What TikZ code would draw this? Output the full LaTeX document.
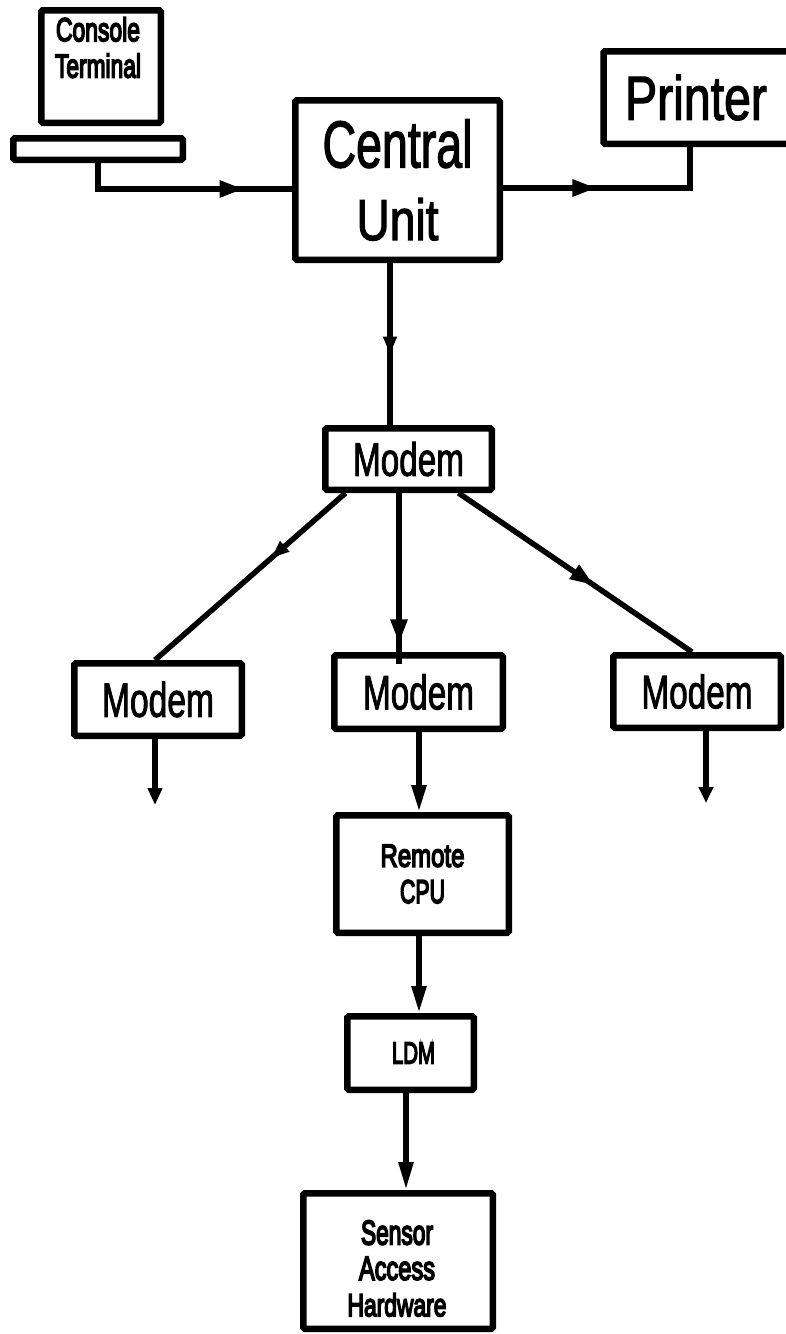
\documentclass[tikz,border=0pt]{standalone}
\usepackage{graphicx}
\usepackage{fontspec}
\setmainfont{Liberation Sans}[AutoFakeBold=2.2]
\newfontfamily\heavyfont{Liberation Sans}[AutoFakeBold=5.5]
\usetikzlibrary{arrows.meta,decorations.markings}
\newcommand{\fitT}[3]{\resizebox{#1pt}{#2pt}{\bfseries #3}}
\newcommand{\fitB}[3]{\resizebox{#1pt}{#2pt}{\heavyfont\bfseries #3}}
\tikzset{
  blk/.style={draw=black,line width=6.5pt,fill=white,inner sep=0pt,rounded corners=1.5pt,align=center},
  lbl/.style={inner sep=0pt,align=center},
  wire/.style={draw=black,line width=5.5pt},
  tip/.style={postaction={decorate,decoration={markings,mark=at position #1 with {\arrow{Triangle[length=24pt,width=16pt]}}}}},
  smalltip/.style={postaction={decorate,decoration={markings,mark=at position #1 with {\arrow{Triangle[length=18pt,width=13pt]}}}}},
  endtip/.style={-{Triangle[length=#1,width=14pt]}}
}
\begin{document}
\begin{tikzpicture}[x=1pt,y=-1pt]
\useasboundingbox (0,0) rectangle (785,1334);
% boxes
\node[blk,minimum width=119.5pt,minimum height=112.5pt] (term) at (101,66.5) {};
\node[lbl] (termtxt) at (98,47.5) {\fitB{84}{24}{Console}\\[11pt]\fitB{86}{24}{Terminal}};
\node[blk,minimum width=169.5pt,minimum height=21.5pt] (kb) at (98,149) {};
\node[blk,minimum width=204.5pt,minimum height=159.5pt] (cu) at (397.5,180) {\fitT{150}{48}{Central}\\[29pt]\fitT{82}{42}{Unit}};
\node[blk,minimum width=193pt,minimum height=92.5pt] (pr) at (700,97.5) {\hspace*{-8pt}\fitT{142}{45}{Printer}};
\node[blk,minimum width=166.5pt,minimum height=61.5pt] (m0) at (408.5,459) {\fitT{111}{34}{Modem}};
\node[blk,minimum width=167.5pt,minimum height=72.5pt] (m1) at (158,699.5) {\fitT{112}{35}{Modem}};
\node[blk,minimum width=168.5pt,minimum height=73.5pt] (m2) at (418.5,692) {\fitT{111}{35}{Modem}};
\node[blk,minimum width=167.5pt,minimum height=72.5pt] (m3) at (697,691.5) {\fitT{111}{34}{Modem}};
\node[blk,minimum width=172.5pt,minimum height=117.5pt] (cpu) at (422.5,874) {\fitB{84}{22}{Remote}\\[12pt]\fitB{45}{23}{CPU}};
\node[blk,minimum width=126.5pt,minimum height=73.5pt] (ldm) at (410.5,1053) {\hspace*{6pt}\fitB{43}{21}{LDM}};
\node[blk,minimum width=189.5pt,minimum height=135.5pt] (sah) at (398,1261) {};
\node[lbl] (sahtxt) at (397,1268.5) {\fitB{72}{24}{Sensor}\\[11pt]\fitB{76}{23}{Access}\\[12pt]\fitB{99}{23}{Hardware}};
% free ends
\coordinate (e1) at (155,805);
\coordinate (e3) at (706,803);
% connectors
\draw[wire,tip=0.78] (kb.south) |- ([yshift=-9pt]cu.west);
\draw[wire,tip=0.41] ([yshift=-8pt]cu.east) -| ([xshift=-10pt]pr.south);
\draw[wire,smalltip=0.565] ([xshift=-7.5pt]cu.south) -- ([xshift=-18.5pt]m0.north);
\draw[wire,smalltip=0.39] ([xshift=-63pt]m0.south) -- ([xshift=-3pt]m1.north);
\draw[wire,tip=0.88] ([xshift=-9.5pt]m0.south) -- ([xshift=-19.5pt,yshift=-12pt]m2.north);
\draw[wire,tip=0.58] ([xshift=50pt]m0.south) -- ([xshift=-5pt]m3.north);
\draw[wire,endtip=17pt] ([xshift=-3pt]m1.south) -- (e1);
\draw[wire,endtip=27pt] ([xshift=0.5pt]m2.south) -- ([xshift=-3.5pt]cpu.north);
\draw[wire,endtip=16pt] ([xshift=9pt]m3.south) -- (e3);
\draw[wire,endtip=27pt] ([xshift=-3.5pt]cpu.south) -- ([xshift=8.5pt]ldm.north);
\draw[wire,endtip=28pt] ([xshift=-4.5pt]ldm.south) -- ([xshift=8pt]sah.north);
\end{tikzpicture}
\end{document}
